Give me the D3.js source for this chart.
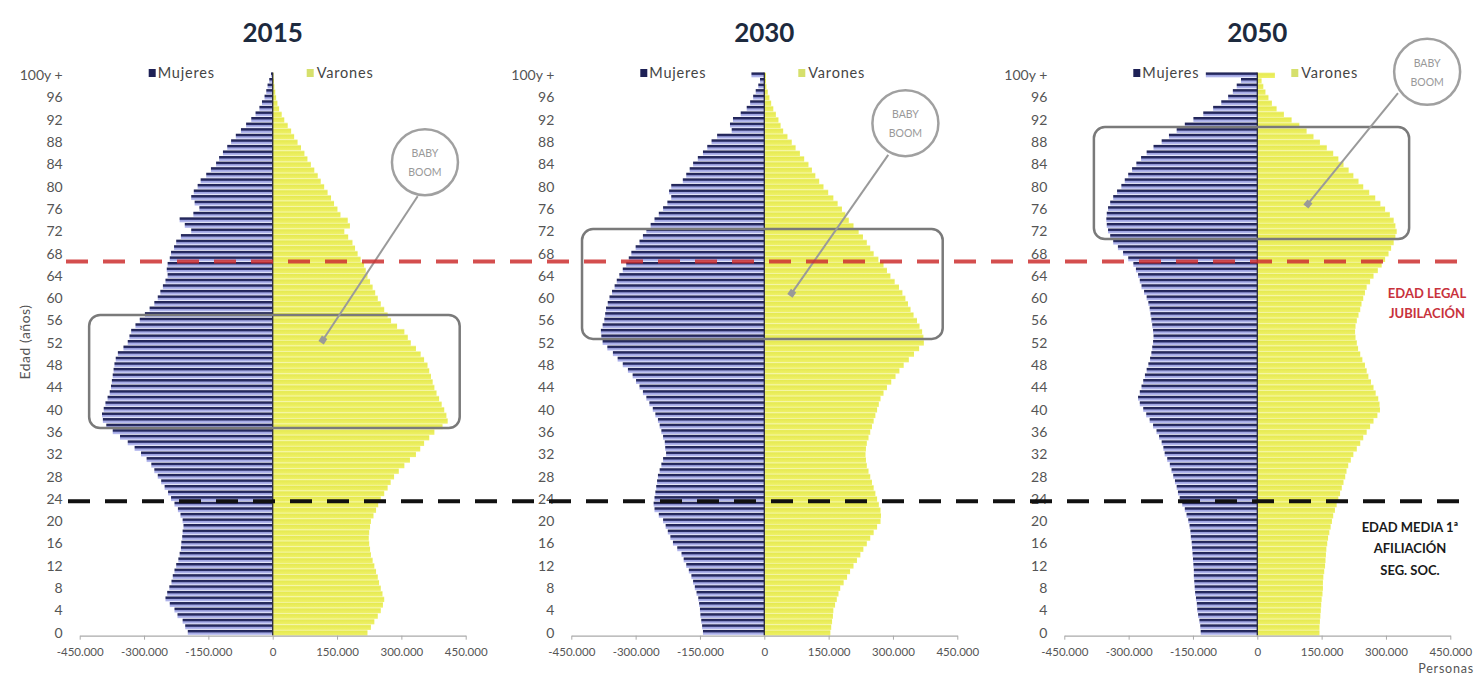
<!DOCTYPE html>
<html>
<head>
<meta charset="utf-8">
<script src="https://cdn.jsdelivr.net/npm/d3@7"></script>
<style>
  body { margin: 0; background: #fff; }
  svg { display: block; font-family: Lato, "Open Sans", sans-serif; }
</style>
</head>
<body>
<svg width="1479" height="677"></svg>
<script>
// ---- data (miles de personas, índice = edad, 100 = 100 y +) ----
var years = ['2015', '2030', '2050'];

var mujeres2015 = [198,204,210,222,229,240,250,246,241,236,233,229,225,220,217,214,213,211,210,208,
  210,215,221,229,237,244,252,260,268,276,283,294,307,322,338,356,373,388,396,398,
  394,390,385,380,377,375,373,371,369,366,361,348,338,334,330,320,310,298,287,276,
  268,262,256,250,245,247,245,240,237,230,225,214,190,205,217,185,171,182,190,184,
  175,168,155,144,132,125,116,106,97,86,74,62,50,40,31,25,19,15,12,8,4];
var varones2015 = [221,229,237,245,252,257,260,256,252,248,245,241,237,233,229,227,225,224,225,227,
  229,235,241,246,252,260,268,275,283,294,307,320,334,344,353,365,377,396,408,405,
  400,394,388,382,377,373,369,365,361,353,345,334,322,315,307,290,276,268,260,252,
  245,239,233,227,221,217,213,205,198,192,186,176,167,180,175,158,151,143,136,128,
  120,112,105,97,89,81,74,66,58,50,43,35,27,21,15,11,8,6,4,3,2];

var mujeres2030 = [143,145,147,149,150,152,154,158,162,166,170,176,182,188,193,203,213,219,225,230,
  236,246,256,258,256,254,252,250,248,244,240,236,229,231,232,236,240,244,248,254,
  260,268,275,283,291,299,307,318,330,342,353,366,377,380,381,377,373,371,369,365,
  361,355,349,344,338,330,322,316,310,300,291,283,275,265,256,246,236,226,217,222,
  217,190,182,174,166,155,143,133,123,110,76,80,73,55,41,33,26,20,14,10,30];
var varones2030 = [154,156,158,160,161,165,169,173,177,185,193,200,208,216,224,231,239,247,255,263,
  271,272,271,267,263,259,255,251,247,243,239,237,236,237,239,243,247,251,255,259,
  263,267,271,278,286,296,306,315,325,337,349,361,372,371,368,362,356,348,341,335,
  329,322,314,304,294,286,278,266,255,247,239,230,220,208,197,189,181,171,161,149,
  138,128,119,111,103,93,83,73,64,54,44,38,33,27,21,16,12,8,5,4,4];

var mujeres2050 = [132,133,135,138,140,141,143,145,146,147,148,148,149,150,151,152,153,155,156,158,
  161,165,169,175,181,185,188,192,196,200,204,210,216,219,223,229,235,243,251,259,
  266,274,278,274,270,266,262,258,254,250,247,245,243,242,243,245,247,249,251,254,
  258,264,270,274,278,283,289,301,313,325,336,343,348,351,352,351,348,343,336,327,
  317,309,301,292,282,271,258,242,223,206,188,169,149,126,103,84,68,57,48,38,120];
var varones2050 = [145,145,146,147,148,149,150,152,153,153,154,156,158,159,160,161,163,165,168,171,
  174,177,181,185,189,193,197,201,205,208,212,218,224,232,240,247,255,263,271,280,
  286,285,282,276,271,265,259,255,251,245,240,235,232,229,228,229,232,236,240,243,
  247,251,255,263,271,281,290,298,306,312,318,322,325,322,318,309,298,287,275,261,
  247,236,224,213,201,189,177,162,146,131,115,98,80,62,45,34,26,19,14,10,41];

var mujeres = [mujeres2015, mujeres2030, mujeres2050];
var varones = [varones2015, varones2030, varones2050];

var xTicks = [-450000, -300000, -150000, 0, 150000, 300000, 450000];
var xTickLabels = ['-450.000', '-300.000', '-150.000', '0', '150.000', '300.000', '450.000'];
var yTicks = [0, 4, 8, 12, 16, 20, 24, 28, 32, 36, 40, 44, 48, 52, 56, 60, 64, 68, 72, 76, 80, 84, 88, 92, 96, 100];
var yTickLabels = yTicks.map(function (d) { return d === 100 ? '100y +' : String(d); });

// edades de referencia (líneas discontinuas)
var edadJubilacion = 66.6;
var edadAfiliacion = 23.6;

// recuadros "baby boom": [x0, x1, edad0, edad1] en personas / edad
var boomBoxes = [
  [-428000, 436000, 36.7, 57.0],
  [-425000, 416000, 52.7, 72.4],
  [-381000, 354000, 70.6, 90.7]
];
// círculo y flecha: [cx, edad, x0, edad0, x1, edad1]
var boomCallouts = [
  [355000, 84.4, 338000, 78.3, 117000, 52.5],
  [329000, 91.4, 289000, 85.7, 64000, 60.9],
  [396000, 100.6, 328000, 96.8, 118000, 76.9]
];

// ---- layout ----
var svg = d3.select('svg');
var centers = [272.7, 764.3, 1257.3];
var halfW = 193;

var y = d3.scaleLinear().domain([0, 100]).range([632.7, 75.2]);
var step = y(0) - y(1);

var defs = svg.append('defs');
var gm = defs.append('linearGradient').attr('id', 'gMuj')
  .attr('x1', 0).attr('y1', 0).attr('x2', 0).attr('y2', 1);
gm.append('stop').attr('offset', '0%').attr('stop-color', '#1c1f50');
gm.append('stop').attr('offset', '40%').attr('stop-color', '#2a2e66');
gm.append('stop').attr('offset', '60%').attr('stop-color', '#9ea3e0');
gm.append('stop').attr('offset', '100%').attr('stop-color', '#bfc3f3');

var gv = defs.append('linearGradient').attr('id', 'gVar')
  .attr('x1', 0).attr('y1', 0).attr('x2', 0).attr('y2', 1);
gv.append('stop').attr('offset', '0%').attr('stop-color', '#f6f7b8');
gv.append('stop').attr('offset', '25%').attr('stop-color', '#e6ea52');
gv.append('stop').attr('offset', '100%').attr('stop-color', '#eff168');

defs.append('marker').attr('id', 'arrow')
  .attr('viewBox', '0 0 10 10').attr('refX', 5).attr('refY', 5)
  .attr('markerWidth', 4).attr('markerHeight', 4).attr('orient', 'auto')
  .append('rect').attr('x', 1).attr('y', 1).attr('width', 8).attr('height', 8)
  .attr('fill', '#999');

years.forEach(function (year, i) {
  var cx = centers[i];
  var x = d3.scaleLinear().domain([-450000, 450000]).range([cx - halfW, cx + halfW]);
  var g = svg.append('g');

  // title
  g.append('text')
    .attr('x', cx).attr('y', 42)
    .attr('text-anchor', 'middle')
    .attr('font-size', 26).attr('font-weight', 'bold')
    .attr('fill', '#1d2a3e')
    .text(year);

  // bars
  var ages = d3.range(0, 101);
  g.append('g').selectAll('rect')
    .data(ages)
    .enter().append('rect')
    .attr('x', function (a) { return x(-mujeres[i][a] * 1000); })
    .attr('y', function (a) { return y(a) - step / 2; })
    .attr('width', function (a) { return x(0) - x(-mujeres[i][a] * 1000); })
    .attr('height', step - 0.6)
    .attr('fill', 'url(#gMuj)');

  g.append('g').selectAll('rect')
    .data(ages)
    .enter().append('rect')
    .attr('x', x(0))
    .attr('y', function (a) { return y(a) - step / 2; })
    .attr('width', function (a) { return x(varones[i][a] * 1000) - x(0); })
    .attr('height', step)
    .attr('fill', 'url(#gVar)');

  // zero line
  g.append('line')
    .attr('x1', x(0)).attr('x2', x(0))
    .attr('y1', y(100) - step / 2).attr('y2', y(0) + step / 2)
    .attr('stroke', '#2a2a3a').attr('stroke-width', 1.3);

  // x axis
  var xAxis = d3.axisBottom(x)
    .tickValues(xTicks)
    .tickFormat(function (d, k) { return xTickLabels[k]; })
    .tickSizeInner(4).tickSizeOuter(0).tickPadding(8);
  var ax = g.append('g').attr('transform', 'translate(0,' + (y(0) + 3) + ')').call(xAxis);
  ax.select('.domain').attr('stroke', '#aaa').attr('stroke-width', 1.2);
  ax.selectAll('.tick line').attr('stroke', '#aaa');
  ax.selectAll('.tick text')
    .attr('font-family', 'Lato, sans-serif')
    .attr('font-size', 11.5).attr('fill', '#555');

  // y axis
  var yAxis = d3.axisLeft(y)
    .tickValues(yTicks)
    .tickFormat(function (d, k) { return yTickLabels[k]; })
    .tickSize(0).tickPadding(0);
  var ay = g.append('g').attr('transform', 'translate(' + (cx - 210) + ',0)').call(yAxis);
  ay.select('.domain').remove();
  ay.selectAll('.tick text')
    .attr('font-family', 'Lato, sans-serif')
    .attr('font-size', 14).attr('fill', '#555');

  // legend
  var lg = g.append('g').attr('font-size', 14.5).attr('fill', '#444').attr('letter-spacing', 0.8);
  lg.append('rect').attr('x', cx - 124).attr('y', 69).attr('width', 7).attr('height', 8).attr('fill', '#1e2156');
  lg.append('text').attr('x', cx - 115).attr('y', 78).text('Mujeres');
  lg.append('rect').attr('x', cx + 34).attr('y', 69).attr('width', 7).attr('height', 8).attr('fill', '#d6e06c');
  lg.append('text').attr('x', cx + 44).attr('y', 78).text('Varones');

  // baby boom box
  var b = boomBoxes[i];
  g.append('rect')
    .attr('x', x(b[0])).attr('y', y(b[3]))
    .attr('width', x(b[1]) - x(b[0])).attr('height', y(b[2]) - y(b[3]))
    .attr('rx', 11).attr('ry', 11)
    .attr('fill', 'none').attr('stroke', '#7a7a7a').attr('stroke-width', 2.5);

  // callout
  var c = boomCallouts[i];
  g.append('line')
    .attr('x1', x(c[2])).attr('y1', y(c[3]))
    .attr('x2', x(c[4])).attr('y2', y(c[5]))
    .attr('stroke', '#9a9a9a').attr('stroke-width', 2)
    .attr('marker-end', 'url(#arrow)');
  g.append('circle')
    .attr('cx', x(c[0])).attr('cy', y(c[1])).attr('r', 33)
    .attr('fill', '#fff').attr('stroke', '#a0a0a0').attr('stroke-width', 2.5);
  g.append('text').attr('x', x(c[0])).attr('y', y(c[1]) - 5)
    .attr('text-anchor', 'middle').attr('font-size', 10.5).attr('fill', '#999')
    .text('BABY');
  g.append('text').attr('x', x(c[0])).attr('y', y(c[1]) + 14)
    .attr('text-anchor', 'middle').attr('font-size', 10.5).attr('fill', '#999')
    .text('BOOM');
});

// y axis title
svg.append('text')
  .attr('transform', 'translate(30,342) rotate(-90)')
  .attr('text-anchor', 'middle')
  .attr('font-size', 14).attr('fill', '#555').attr('letter-spacing', 0.5)
  .text('Edad (años)');

// reference lines
svg.append('line')
  .attr('x1', 68).attr('x2', 1472)
  .attr('y1', y(edadAfiliacion)).attr('y2', y(edadAfiliacion))
  .attr('stroke', '#111').attr('stroke-width', 4)
  .attr('stroke-dasharray', '22,15');
svg.append('line')
  .attr('x1', 66).attr('x2', 1470)
  .attr('y1', y(edadJubilacion)).attr('y2', y(edadJubilacion))
  .attr('stroke', '#cc2f2f').attr('stroke-width', 4).attr('stroke-opacity', 0.85)
  .attr('stroke-dasharray', '22,15');

// annotations
var a1 = svg.append('text').attr('text-anchor', 'middle')
  .attr('font-size', 13).attr('font-weight', 'bold').attr('fill', '#c8323c');
a1.append('tspan').attr('x', 1427).attr('y', 298).text('EDAD LEGAL');
a1.append('tspan').attr('x', 1427).attr('y', 318).text('JUBILACIÓN');

var a2 = svg.append('text').attr('text-anchor', 'middle')
  .attr('font-size', 13).attr('font-weight', 'bold').attr('fill', '#1a1a1a');
a2.append('tspan').attr('x', 1410).attr('y', 532).text('EDAD MEDIA 1ª');
a2.append('tspan').attr('x', 1410).attr('y', 553).text('AFILIACIÓN');
a2.append('tspan').attr('x', 1410).attr('y', 575).text('SEG. SOC.');

svg.append('text')
  .attr('x', 1474).attr('y', 673).attr('text-anchor', 'end')
  .attr('font-size', 12.5).attr('fill', '#555').attr('letter-spacing', 0.8)
  .text('Personas');
</script>
</body>
</html>
